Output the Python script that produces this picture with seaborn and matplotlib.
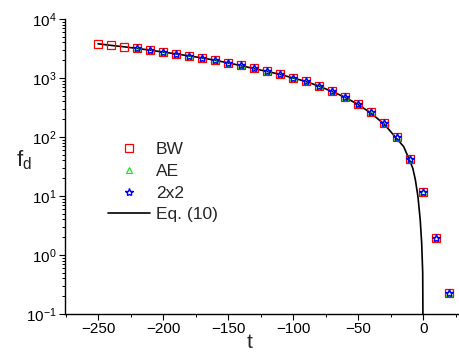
import numpy as np
import seaborn as sns
import matplotlib.pyplot as plt
from matplotlib.ticker import LogLocator, MultipleLocator, NullFormatter

# data
t_bw = [-250, -240, -230, -220, -210, -200, -190, -180, -170, -160, -150, -140, -130, -120,
        -110, -100, -90, -80, -70, -60, -50, -40, -30, -20, -10, 0, 10, 20]
f_bw = [3810, 3580, 3400, 3190, 2990, 2760, 2580, 2390, 2210, 2020, 1820, 1640, 1460, 1310,
        1170, 1010, 890, 740, 603, 482, 367, 262, 173, 99, 43, 11.6, 1.92, 0.227]

t_ae = [-220, -210, -200, -190, -180, -170, -160, -150, -140, -130, -120, -110, -100,
        -90, -80, -70, -60, -50, -40, -30, -20, -10, 0, 10, 20]
f_ae = [3190, 2990, 2760, 2580, 2390, 2210, 2020, 1820, 1640, 1460, 1310, 1170, 1010,
        890, 740, 603, 482, 367, 262, 173, 99, 43, 11.6, 1.92, 0.227]

t_22 = [-220, -210, -200, -190, -180, -170, -160, -150, -140, -130, -120, -110, -100,
        -90, -80, -70, -60, -50, -40, -30, -20, -10, 0, 10, 20]
f_22 = [3190, 2990, 2760, 2580, 2390, 2210, 2020, 1820, 1640, 1460, 1310, 1170, 1010,
        890, 740, 603, 482, 367, 262, 173, 99, 43, 11.6, 1.92, 0.227]

# Eq. (10) curve
t_eq = [-250, -240, -230, -220, -210, -200, -190, -180, -170, -160, -150, -140, -130, -120,
        -110, -100, -90, -80, -70, -60, -50, -40, -30, -20, -15, -10, -8, -6, -4, -2.3,
        -1.2, -0.4, 0]
f_eq = [3800, 3570, 3380, 3170, 2970, 2750, 2560, 2370, 2190, 2000, 1800, 1620, 1440, 1290,
        1150, 1000, 870, 725, 590, 470, 355, 252, 165, 92, 68.5, 38, 29.4, 18.6, 9.5, 3.9,
        1.6, 0.5, 0.01]

sns.set_style('ticks')
plt.rcParams['font.family'] = ['Liberation Sans', 'DejaVu Sans']
plt.rcParams['mathtext.fontset'] = 'custom'
plt.rcParams['mathtext.rm'] = 'Liberation Sans'
plt.rcParams['mathtext.it'] = 'Liberation Sans'

fig = plt.figure(figsize=(4.59, 3.55), dpi=100)
ax = fig.add_axes([65 / 459, 41 / 355, 394 / 459, 295 / 355])

sns.lineplot(x=t_eq, y=f_eq, color='black', linewidth=1.2, label='Eq. (10)', ax=ax, zorder=1)
sns.lineplot(x=t_bw, y=f_bw, marker='s', linestyle='', mfc='none', mec='red', mew=0.9,
             ms=5.3, label='BW', ax=ax, zorder=2)
sns.lineplot(x=t_ae, y=f_ae, marker='^', linestyle='', mfc='none', mec='#00ee00', mew=0.8,
             ms=5, label='AE', ax=ax, zorder=3)
sns.lineplot(x=t_22, y=f_22, marker='*', linestyle='', mfc='none', mec='blue', mew=1.0,
             ms=6, label='2x2', ax=ax, zorder=4)

ax.set_yscale('log')
ax.set_xlim(-275.4, 27.5)
ax.set_ylim(0.1, 1e4)
ax.xaxis.set_major_locator(MultipleLocator(50))
ax.xaxis.set_minor_locator(MultipleLocator(25))
ax.yaxis.set_major_locator(LogLocator(base=10, numticks=10))
ax.yaxis.set_minor_locator(LogLocator(base=10, subs=np.arange(2, 10), numticks=20))
ax.yaxis.set_minor_formatter(NullFormatter())
ax.tick_params(axis='both', which='major', direction='out', length=4, width=0.8,
               labelsize=11, pad=2, color='black', labelcolor='black')
ax.tick_params(axis='both', which='minor', direction='out', length=2.5, width=0.7, color='black')
sns.despine(ax=ax)
for s in ['left', 'bottom']:
    ax.spines[s].set_linewidth(1.0)
    ax.spines[s].set_color('black')

ax.set_xlabel('t', fontsize=15)
ax.xaxis.set_label_coords(185 / 394, -0.065)
ax.set_ylabel(r'f$_\mathregular{d}$', fontsize=16, rotation=0)
ax.yaxis.set_label_coords(-0.105, 0.48)

handles, labels = ax.get_legend_handles_labels()
order = [labels.index(k) for k in ['BW', 'AE', '2x2', 'Eq. (10)']]
ax.legend([handles[i] for i in order], [labels[i] for i in order],
          loc='upper left', bbox_to_anchor=(108 / 459, 1 - 142 / 355),
          bbox_transform=fig.transFigure, frameon=False, fontsize=12.5,
          handlelength=2.4, handletextpad=0.35, labelspacing=0.38,
          borderpad=0, borderaxespad=0, numpoints=1)

fig.savefig('out.png', dpi=100)
